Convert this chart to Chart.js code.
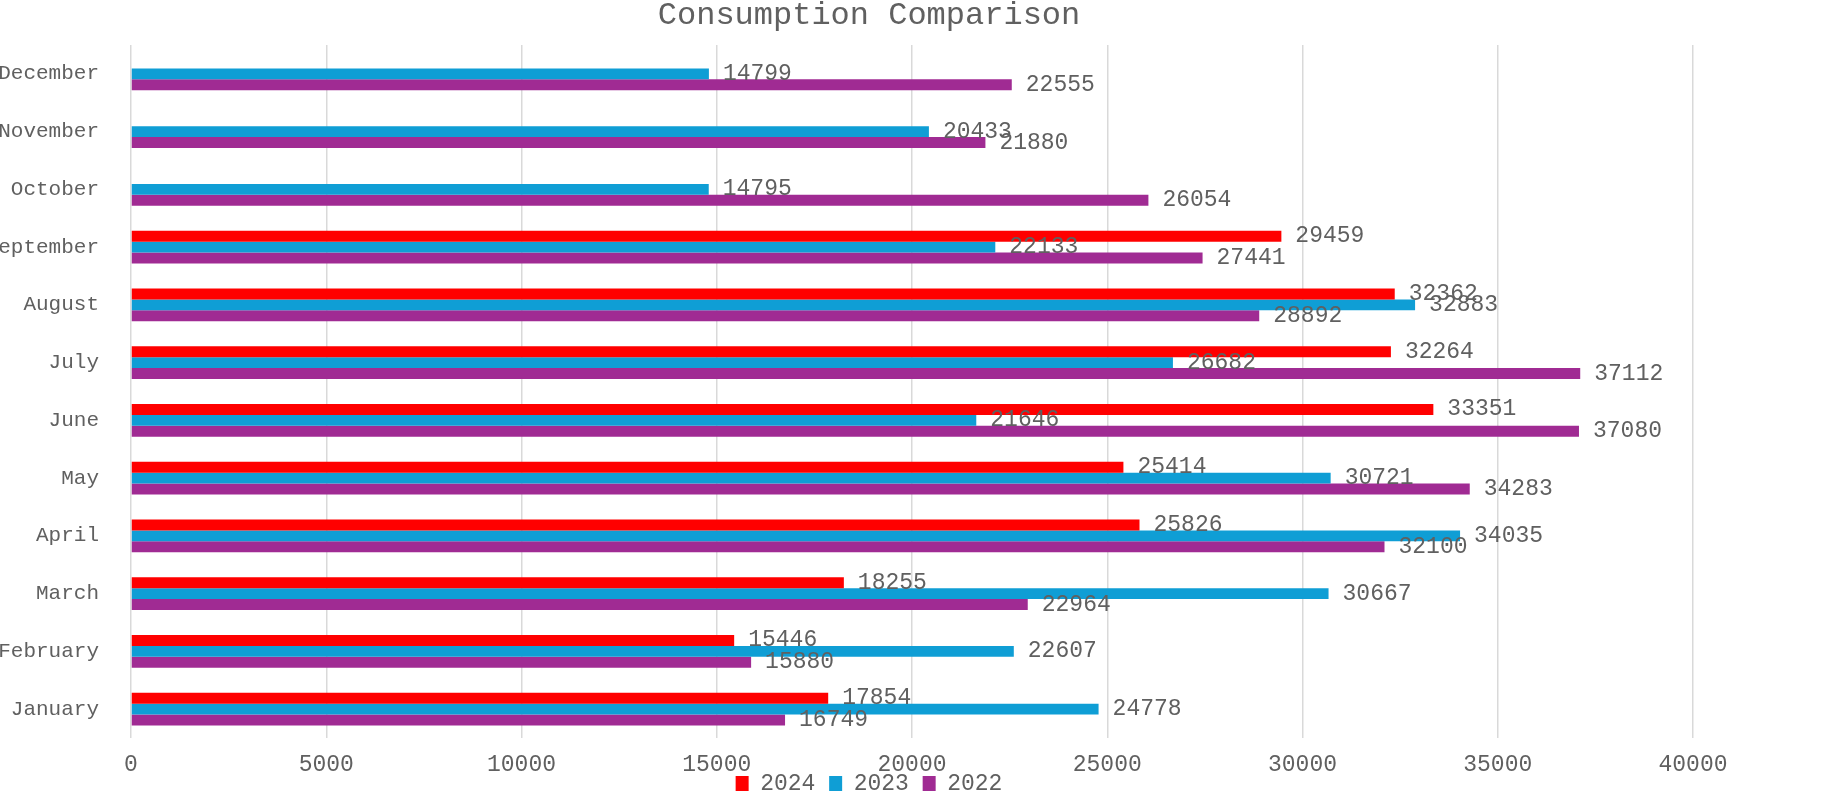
<!DOCTYPE html>
<html>
<head>
<meta charset="utf-8">
<title>Consumption Comparison</title>
<script src="https://cdn.jsdelivr.net/npm/chart.js@4/dist/chart.umd.min.js"></script>
<style>
  html, body { margin: 0; padding: 0; background: #fff; }
</style>
</head>
<body>
<canvas id="consumptionChart" width="1839" height="799"></canvas>
<script>
// Data
const months = ['January', 'February', 'March', 'April', 'May', 'June', 'July', 'August', 'September', 'October', 'November', 'December'];
const years = ['2024', '2023', '2022'];
const values2024 = [17854, 15446, 18255, 25826, 25414, 33351, 32264, 32362, 29459, null, null, null];
const values2023 = [24778, 22607, 30667, 34035, 30721, 21646, 26682, 32883, 22133, 14795, 20433, 14799];
const values2022 = [16749, 15880, 22964, 32100, 34283, 37080, 37112, 28892, 27441, 26054, 21880, 22555];
const xTicks = [0, 5000, 10000, 15000, 20000, 25000, 30000, 35000, 40000];

const colors = ['#FF0000', '#0F9ED5', '#A02B93'];
const fontFamily = "'Courier New', 'Liberation Mono', monospace";
const textColor = '#606060';

// Draws the value at the end of every bar
const valueLabels = {
	id: 'valueLabels',
	afterDatasetsDraw(chart) {
		const ctx = chart.ctx;
		ctx.save();
		ctx.font = '23px ' + fontFamily;
		ctx.fillStyle = textColor;
		ctx.textAlign = 'left';
		ctx.textBaseline = 'middle';
		chart.data.datasets.forEach((dataset, i) => {
			const meta = chart.getDatasetMeta(i);
			meta.data.forEach((bar, j) => {
				const value = dataset.data[j];
				if (value === null || value === undefined) return;
				ctx.fillText(String(value), bar.x + 14, bar.y);
			});
		});
		ctx.restore();
	},
};

const ctx = document.getElementById('consumptionChart').getContext('2d');

const chart = new Chart(ctx, {
	type: 'bar',
	data: {
		labels: months,
		datasets: [
			{ label: years[0], data: values2024, backgroundColor: colors[0] },
			{ label: years[1], data: values2023, backgroundColor: colors[1] },
			{ label: years[2], data: values2022, backgroundColor: colors[2] },
		],
	},
	options: {
		indexAxis: 'y',
		responsive: false,
		animation: false,
		devicePixelRatio: 1,
		layout: { padding: { left: 0, right: 101, top: 0, bottom: -6 } },
		datasets: {
			bar: { categoryPercentage: 0.57, barPercentage: 1.0 },
		},
		plugins: {
			title: {
				display: true,
				text: 'Consumption Comparison',
				color: textColor,
				font: { family: fontFamily, size: 32, weight: 'normal', lineHeight: 1 },
				padding: { top: 0, bottom: 13 },
			},
			legend: {
				position: 'bottom',
				labels: {
					color: textColor,
					font: { family: fontFamily, size: 23 },
					boxWidth: 13,
					boxHeight: 15,
					padding: 0,
					// a trailing space keeps the gap between legend items
					generateLabels: (chart) => {
						const items = Chart.defaults.plugins.legend.labels.generateLabels(chart);
						items.forEach((item, k) => {
							if (k < items.length - 1) item.text = item.text + ' ';
						});
						return items;
					},
				},
			},
			tooltip: { enabled: false },
		},
		scales: {
			x: {
				min: xTicks[0],
				max: xTicks[xTicks.length - 1],
				afterBuildTicks: (scale) => {
					scale.ticks = xTicks.map((v) => ({ value: v }));
				},
				afterFit: (scale) => {
					scale.paddingRight = 146;
					scale.height = 34;
				},
				grid: { color: '#d9d9d9', lineWidth: 1.5, drawTicks: false },
				border: { display: false },
				ticks: {
					color: textColor,
					font: { family: fontFamily, size: 23, lineHeight: '14px' },
					padding: 20,
					callback: (value) => String(value),
				},
			},
			y: {
				reverse: true,
				afterFit: (scale) => {
					scale.width = 131;
				},
				grid: { display: false, drawTicks: false },
				border: { display: false },
				ticks: {
					color: textColor,
					font: { family: fontFamily, size: 21 },
					padding: 32,
				},
			},
		},
	},
	plugins: [valueLabels],
});
</script>
</body>
</html>
